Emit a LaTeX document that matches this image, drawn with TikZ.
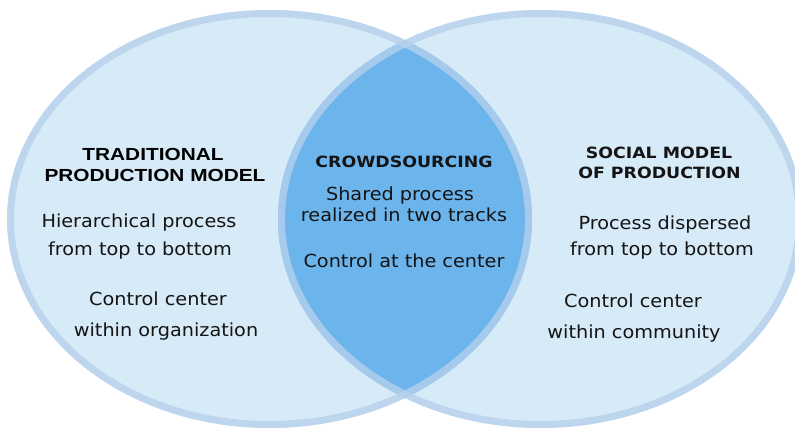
\documentclass[tikz,border=0pt]{standalone}
\usepackage{fontspec}
\newfontfamily\bodyfam[FakeStretch=1.07]{DejaVu Sans}
\newfontfamily\headfam[FakeStretch=1.12]{DejaVu Sans Bold}
\newfontfamily\arialbold[FakeStretch=1.19]{Liberation Sans Bold}
\definecolor{fillLight}{RGB}{214,234,248}
\definecolor{fillDark}{RGB}{108,180,236}
\definecolor{ringCol}{RGB}{183,209,236}
\begin{document}
\begin{tikzpicture}[x=1pt,y=-1pt,
  bodytxt/.style={anchor=base,inner sep=0pt,font=\bodyfam\fontsize{18}{20}\selectfont,text=black!92},
  headtxt/.style={anchor=base,inner sep=0pt,font=\headfam\fontsize{15.5}{18}\selectfont,text=black!92},
  tradtxt/.style={anchor=base,inner sep=0pt,font=\arialbold\fontsize{17.5}{20}\selectfont,text=black},
  ring/.style={draw=ringCol,draw opacity=0.78,line width=7pt}]
\useasboundingbox (0,0) rectangle (795,431);
\fill[white] (0,0) rectangle (795,431);
% fills
\fill[fillLight] (269.5,219) ellipse [x radius=262.5, y radius=209];
\fill[fillLight] (540.5,219) ellipse [x radius=262.5, y radius=209];
\begin{scope}
  \clip (269.5,219) ellipse [x radius=262.5, y radius=209];
  \fill[fillDark] (540.5,219) ellipse [x radius=262.5, y radius=209];
\end{scope}
% rings
\draw[ring] (269.5,219) ellipse [x radius=259, y radius=205.5];
\draw[ring] (540.5,219) ellipse [x radius=259, y radius=205.5];
% left texts
\node[tradtxt] (t1) at (153,160) {TRADITIONAL};
\node[tradtxt] (t2) at (155,181) {PRODUCTION MODEL};
\node[bodytxt] (l1) at (139,227) {Hierarchical process};
\node[bodytxt] (l2) at (140,255) {from top to bottom};
\node[bodytxt] (l3) at (158,305) {Control center};
\node[bodytxt] (l4) at (166,336) {within organization};
% middle texts
\node[headtxt] (c0) at (404,167) {CROWDSOURCING};
\node[bodytxt] (c1) at (400,200) {Shared process};
\node[bodytxt] (c2) at (404,221) {realized in two tracks};
\node[bodytxt] (c3) at (404,267) {Control at the center};
% right texts
\node[headtxt] (s1) at (659,158) {SOCIAL MODEL};
\node[headtxt] (s2) at (659.5,178) {OF PRODUCTION};
\node[bodytxt] (r1) at (665,229) {Process dispersed};
\node[bodytxt] (r2) at (662,255) {from top to bottom};
\node[bodytxt] (r3) at (633,307) {Control center};
\node[bodytxt] (r4) at (634,338) {within community};
\end{tikzpicture}
\end{document}
